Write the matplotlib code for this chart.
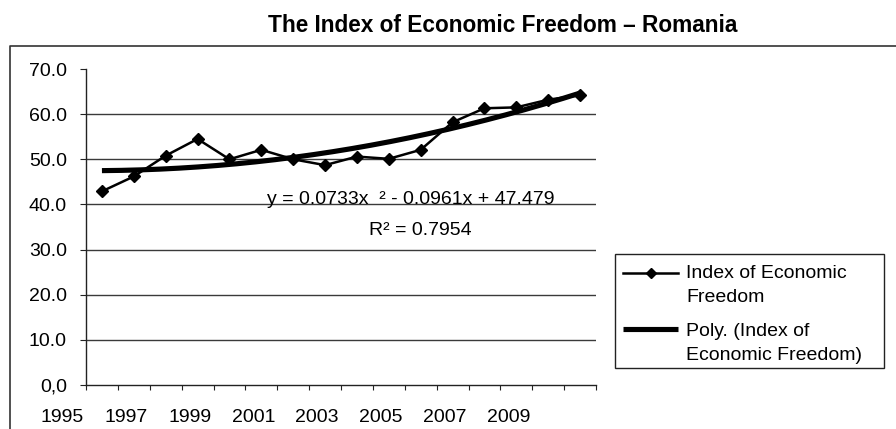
import numpy as np
import matplotlib
matplotlib.use("Agg")
import matplotlib.pyplot as plt
import matplotlib.transforms as mtransforms
from matplotlib.lines import Line2D
from matplotlib.patches import Rectangle

plt.rcParams.update({
    "font.family": "Liberation Sans",
    "font.size": 14,
})

# datos
years = [1995, 1996, 1997, 1998, 1999, 2000, 2001, 2002,
         2003, 2004, 2005, 2006, 2007, 2008, 2009, 2010]
index_values = [42.9, 46.2, 50.8, 54.5, 50.0, 52.1, 50.0, 48.7,
                50.6, 50.1, 52.1, 58.2, 61.3, 61.5, 63.2, 64.2]

year_labels = ["1995", "1997", "1999", "2001", "2003", "2005", "2007", "2009"]
y_ticks = [0, 10, 20, 30, 40, 50, 60, 70]
y_tick_labels = ["0,0", "10.0", "20.0", "30.0", "40.0", "50.0", "60.0", "70.0"]

title = "The Index of Economic Freedom \u2013 Romania"
legend_labels = ["Index of Economic\nFreedom", "Poly. (Index of\nEconomic Freedom)"]
eq_text = "y = 0.0733x  \u00b2 - 0.0961x + 47.479"
r2_text = "R\u00b2 = 0.7954"

W, H = 896, 429


def fx(px):
    return px / W


def fy(py):
    return 1 - py / H


fig = plt.figure(figsize=(W / 100, H / 100), dpi=100)
ax = fig.add_axes([fx(86), fy(385), 510 / W, 316 / H])

x = np.arange(len(years))
ax.plot(x, index_values, color="black", lw=1.8, marker="D", ms=6.2, zorder=3)

# tendencia polinomica de grado 2 (como la de Excel, x = 1..n)
coef = np.polyfit(x + 1, index_values, 2)
xs = np.linspace(1, len(years), 200)
ax.plot(xs - 1, np.polyval(coef, xs), color="black", lw=3.7,
        solid_capstyle="butt", zorder=4)

ax.set_xlim(-0.5, len(years) - 0.5)
ax.set_ylim(0, 70)
ax.set_xticks(np.arange(-0.5, len(years), 1.0))
ax.set_xticklabels([])
ax.tick_params(axis="x", length=3.6, width=0.8, direction="out", color="#222222")
ax.set_yticks(y_ticks)
ax.set_yticklabels(y_tick_labels)
ax.tick_params(axis="y", length=4.3, width=0.8, pad=9.4, labelsize=14, color="#222222")
for s in ["top", "right"]:
    ax.spines[s].set_visible(False)
for s in ["left", "bottom"]:
    ax.spines[s].set_color("#222222")
    ax.spines[s].set_linewidth(1.0)

for v in y_ticks[1:-1]:
    ax.axhline(v, color="#3a3a3a", lw=1.0, zorder=1)

trans = mtransforms.blended_transform_factory(ax.transData, ax.transAxes)
for yr in year_labels:
    ax.text(int(yr) - years[0] - 1.25, -0.104, yr, transform=trans,
            ha="center", va="center", clip_on=False)

ax.text(5.18, 40.2, eq_text, ha="left", va="baseline", zorder=5)
ax.text(9.99, 33.2, r2_text, ha="center", va="baseline", zorder=5)

# titulo y marco exterior
fig.text(fx(502.5), fy(32), title, ha="center", va="baseline",
         fontsize=16.3, fontweight="bold")
fig.add_artist(Line2D([fx(10), fx(10), 1.0], [0, fy(46), fy(46)],
                      transform=fig.transFigure, color="#333333", lw=1.2))

# leyenda
fig.add_artist(Rectangle((fx(615), fy(368)), (884 - 615) / W, (368 - 254) / H,
                         transform=fig.transFigure, fill=False,
                         ec="#222222", lw=1.0))
fig.add_artist(Line2D([fx(623), fx(678)], [fy(273), fy(273)],
                      transform=fig.transFigure, color="black", lw=1.8))
fig.add_artist(Line2D([fx(650.5)], [fy(273)], transform=fig.transFigure,
                      color="black", marker="D", ms=5, lw=0))
fig.add_artist(Line2D([fx(623), fx(678)], [fy(329), fy(329)],
                      transform=fig.transFigure, color="black", lw=3.7,
                      solid_capstyle="butt"))
baselines = [(278.3, 302.3), (336, 360)]
for lab, (b1, b2) in zip(legend_labels, baselines):
    l1, l2 = lab.split("\n")
    fig.text(fx(686), fy(b1), l1, ha="left", va="baseline")
    fig.text(fx(686), fy(b2), l2, ha="left", va="baseline")

fig.savefig("out.png", dpi=100)
